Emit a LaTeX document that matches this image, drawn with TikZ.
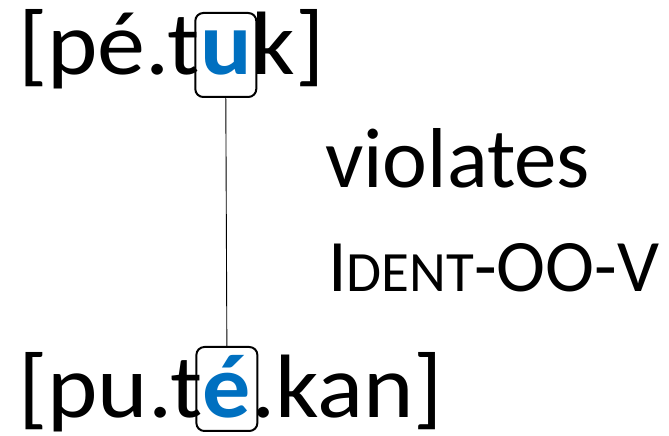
\documentclass[tikz,border=0pt]{standalone}
\usepackage{fontspec}
\setmainfont{Carlito}
\newfontfamily\formfont{Carlito}[FakeStretch=1.067]
\usetikzlibrary{positioning}
\definecolor{segblue}{HTML}{0070C0}
\tikzset{
  word/.style={inner sep=0pt, outer sep=0pt, font=\formfont\fontsize{90}{104}\selectfont},
  label/.style={inner sep=0pt, outer sep=0pt, anchor=base west},
  seg/.style={word, text=segblue, font=\formfont\fontsize{90}{104}\selectfont\bfseries},
  segbox/.style={draw, line width=2pt, rounded corners=8pt, inner sep=0pt,
    minimum width=61pt, minimum height=84pt},
  assoc/.style={line width=0.9pt}
}
\begin{document}
\begin{tikzpicture}[x=1pt,y=1pt]
\useasboundingbox (0,0) rectangle (669,436);
% upper form
\node[word, anchor=base west] (a1) at (18,361) {[pé.t};
\node[seg, anchor=base west] (au) at (a1.base east) {u};
\node[word, anchor=base west] (a2) at (au.base east) {k]};
% lower form
\node[word, anchor=base west] (b1) at (18,18) {[pu.t};
\node[seg, anchor=base west] (be) at (b1.base east) {é};
\node[word, anchor=base west] (b2) at (be.base east) {.kan]};
% boxes round the corresponding vowels
\node[segbox] (boxu) at ([yshift=20pt]au.base) {};
\node[segbox] (boxe) at ([yshift=29pt]be.base) {};
\draw[assoc] (boxu.south) -- (boxe.north);
% constraint label
\node[label, font=\fontsize{85}{100}\selectfont] (viol) at (325,248) {violates};
\node[label, font=\fontsize{74}{88}\selectfont] (ident) at (328,144)
  {I{\fontsize{57}{68}\selectfont DENT}-OO-V};
\end{tikzpicture}
\end{document}
